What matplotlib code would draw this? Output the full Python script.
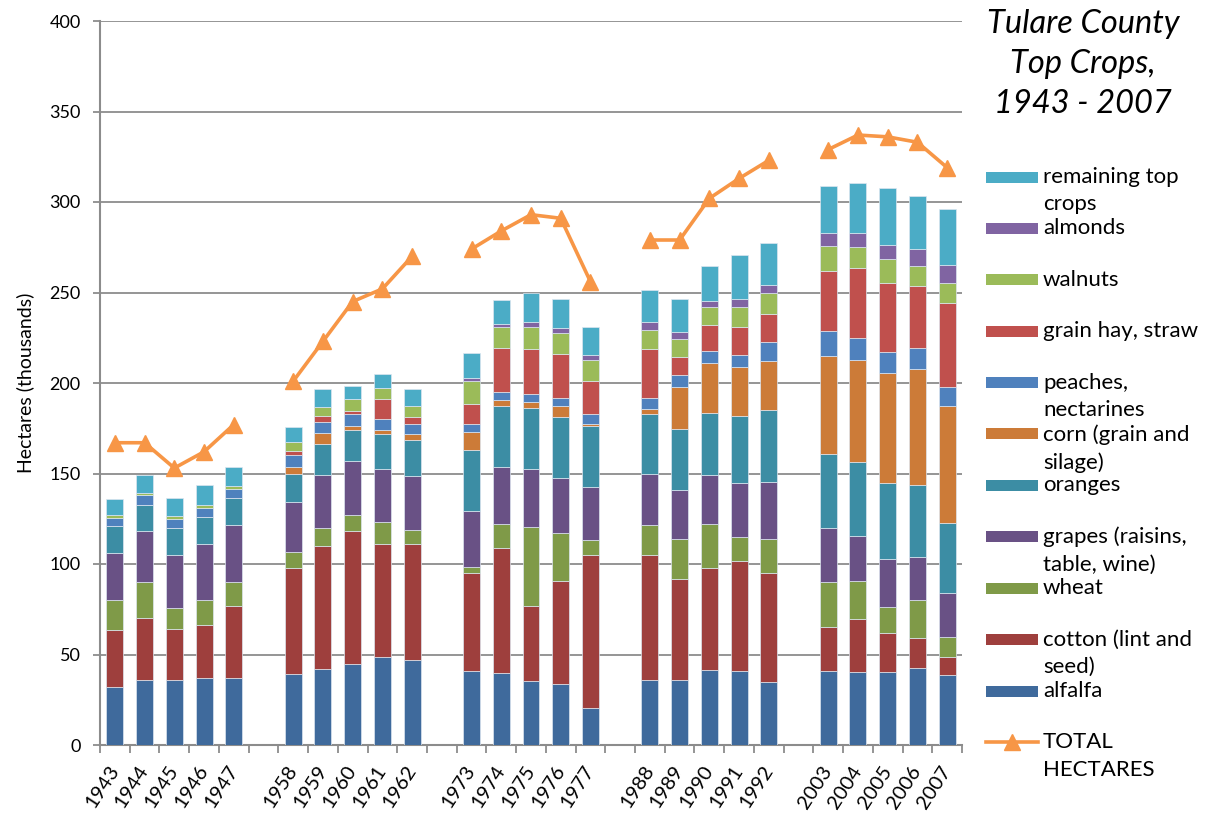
import numpy as np
import matplotlib
matplotlib.use("Agg")
import matplotlib.pyplot as plt
from matplotlib.patches import Rectangle
from matplotlib.lines import Line2D

# ---------------- data (thousand hectares) ----------------
years = ["1943", "1944", "1945", "1946", "1947",
         "1958", "1959", "1960", "1961", "1962",
         "1973", "1974", "1975", "1976", "1977",
         "1988", "1989", "1990", "1991", "1992",
         "2003", "2004", "2005", "2006", "2007"]

alfalfa   = [32.1, 35.7, 35.7, 37.1, 37.1, 39.4, 41.9, 44.6, 48.6, 47.1, 40.7, 40.0, 35.5, 33.5, 20.6,
             36.0, 36.0, 41.6, 40.9, 34.8, 40.7, 40.5, 40.5, 42.5, 38.5]
cotton    = [31.7, 34.7, 28.6, 29.2, 39.8, 58.3, 68.1, 73.5, 62.7, 63.8, 54.1, 68.6, 41.4, 57.0, 84.2,
             69.2, 55.9, 56.4, 60.7, 60.2, 24.7, 29.2, 21.5, 16.8, 10.1]
wheat     = [16.3, 19.9, 11.3, 13.8, 12.9, 8.9, 9.9, 9.0, 11.8, 8.1, 3.8, 13.3, 43.7, 26.7, 8.3,
             16.5, 21.9, 23.9, 13.3, 18.8, 24.6, 20.8, 14.2, 21.0, 10.9]
grapes    = [26.2, 27.8, 29.6, 30.8, 31.9, 27.6, 29.2, 29.7, 29.2, 29.6, 30.6, 31.7, 31.9, 30.1, 29.4,
             27.8, 27.2, 27.2, 29.9, 31.4, 29.7, 24.9, 26.3, 23.3, 24.7]
oranges   = [14.7, 14.5, 14.7, 15.1, 14.5, 15.3, 17.2, 17.4, 19.6, 19.7, 33.7, 33.7, 33.7, 33.9, 33.7,
             33.3, 33.7, 34.6, 37.1, 39.9, 40.9, 41.2, 42.1, 39.8, 38.2]
corn      = [0.0, 0.0, 0.0, 0.0, 0.0, 3.9, 6.1, 2.0, 2.3, 3.6, 10.0, 3.4, 3.2, 5.9, 1.4,
             2.7, 23.3, 27.6, 26.7, 26.9, 54.3, 56.1, 61.1, 64.3, 64.7]
peaches   = [4.6, 5.4, 5.2, 5.2, 5.4, 6.8, 6.3, 6.4, 5.9, 5.7, 4.2, 4.1, 4.7, 4.5, 5.0,
             6.1, 6.5, 6.6, 7.0, 10.9, 13.6, 12.0, 11.5, 11.8, 10.9]
grain_hay = [0.0, 0.0, 0.0, 0.0, 0.0, 2.5, 3.0, 2.2, 11.3, 3.6, 11.4, 24.4, 24.9, 24.5, 18.5,
             27.2, 10.0, 14.0, 15.4, 15.3, 33.5, 38.6, 38.2, 34.3, 46.1]
walnuts   = [1.5, 1.4, 1.6, 1.6, 1.6, 4.7, 5.2, 6.1, 5.7, 5.9, 12.4, 11.6, 11.8, 11.5, 11.8,
             10.4, 9.7, 10.0, 10.9, 11.6, 13.8, 11.8, 12.9, 10.9, 10.9]
almonds   = [0.0, 0.0, 0.0, 0.0, 0.0, 0.0, 0.0, 0.0, 0.0, 0.0, 1.8, 2.0, 3.1, 2.9, 2.7,
             4.3, 3.9, 3.6, 4.7, 4.5, 6.8, 7.5, 8.2, 9.1, 10.2]
remaining = [8.6, 9.5, 10.0, 11.1, 10.6, 8.4, 9.9, 7.5, 7.9, 9.7, 13.8, 12.9, 16.1, 15.9, 15.2,
             18.1, 18.1, 19.2, 24.2, 23.1, 26.4, 27.8, 31.2, 29.4, 30.7]
total_hectares = [167, 167, 153, 162, 177, 201, 223, 245, 252, 270, 274, 284, 293, 291, 256,
                  279, 279, 302, 313, 323, 329, 337, 336, 333, 319]

series_labels = ["alfalfa", "cotton (lint and\nseed)", "wheat", "grapes (raisins,\ntable, wine)",
                 "oranges", "corn (grain and\nsilage)", "peaches,\nnectarines", "grain hay, straw",
                 "walnuts", "almonds", "remaining top\ncrops"]
total_label = "TOTAL\nHECTARES"
title_text = "Tulare County\nTop Crops,\n1943 - 2007"
y_label = "Hectares (thousands)"

series_colors = ["#3F6A9C", "#9E3F3D", "#7F9A48", "#695185", "#3C8DA4", "#CC7B38",
                 "#4F81BD", "#C0504D", "#9BBB59", "#8064A2", "#4BACC6"]
total_color = "#F79646"

# ---------------- layout ----------------
W, H = 1206, 814
DPI = 100
FONT = "Lato"
plt.rcParams["font.family"] = [FONT, "DejaVu Sans"]

fig = plt.figure(figsize=(W / DPI, H / DPI), dpi=DPI)
ax = fig.add_axes([100 / W, 1 - 745 / H, 862 / W, 724 / H])

# category positions: 5 years per group, one blank slot between groups
positions = []
for i in range(len(years)):
    g = i // 5
    positions.append(i + g)
positions = np.array(positions, dtype=float)

all_series = [alfalfa, cotton, wheat, grapes, oranges, corn, peaches,
              grain_hay, walnuts, almonds, remaining]
bottom = np.zeros(len(years))
for vals, col in zip(all_series, series_colors):
    v = np.array(vals)
    ax.bar(positions, v, bottom=bottom, width=0.57, color=col,
           edgecolor="#DDE6F0", linewidth=0.5, zorder=3)
    bottom += v

# total line, broken between groups
for g in range(5):
    idx = slice(g * 5, g * 5 + 5)
    ax.plot(positions[idx], total_hectares[idx], color=total_color, lw=2.6,
            marker="^", markersize=11, zorder=4, solid_joinstyle="miter")

ax.set_xlim(-0.5, positions[-1] + 0.5)
ax.set_ylim(0, 400)
ax.set_yticks(np.arange(0, 401, 50))
ax.grid(axis="y", color="#8C8C8C", lw=1.3, zorder=0)
ax.set_axisbelow(True)

for s in ["top", "right"]:
    ax.spines[s].set_visible(False)
for s in ["left", "bottom"]:
    ax.spines[s].set_color("#8C8C8C")
    ax.spines[s].set_linewidth(1.5)

ax.tick_params(axis="y", direction="out", length=5, width=1.3, color="#8C8C8C",
               pad=9, labelsize=13, labelcolor="#000000")
ax.set_xticks(positions)
ax.set_xticklabels(years, rotation=57, ha="right", va="center",
                   rotation_mode="anchor", fontsize=14.5)
ax.tick_params(axis="x", which="major", length=0, pad=16)
ax.set_xticks(np.arange(-0.5, positions[-1] + 1, 1.0), minor=True)
ax.tick_params(axis="x", which="minor", direction="out", length=6, width=1.3,
               color="#8C8C8C")

ax.set_ylabel(y_label, fontsize=14, labelpad=11)

# ---------------- title ----------------
fig.text(1083 / W, 1 - 9 / H, title_text, ha="center", va="top",
         fontsize=23.5, style="italic", linespacing=1.42)

# ---------------- legend (manual, Excel-like) ----------------
legend_items = list(zip(series_labels, series_colors))[::-1]
y0, dy = 177, 51.4
for k, (lab, col) in enumerate(legend_items):
    yc = y0 + k * dy
    fig.patches.append(Rectangle((986 / W, 1 - (yc + 5.5) / H), 52 / W, 11 / H,
                                 transform=fig.transFigure, facecolor=col,
                                 edgecolor="none"))
    fig.text(1043 / W, 1 - (yc - 10) / H, lab, ha="left", va="top",
             fontsize=16, linespacing=1.45)
yc = y0 + len(legend_items) * dy
fig.lines.append(Line2D([986 / W, 1038 / W], [1 - yc / H, 1 - yc / H],
                        transform=fig.transFigure, color=total_color, lw=2.6))
fig.lines.append(Line2D([1012 / W], [1 - yc / H], transform=fig.transFigure,
                        color=total_color, marker="^", markersize=11, lw=0))
fig.text(1043 / W, 1 - (yc - 10) / H, total_label, ha="left", va="top",
         fontsize=16, linespacing=1.45)

fig.savefig("out.png", dpi=DPI)
